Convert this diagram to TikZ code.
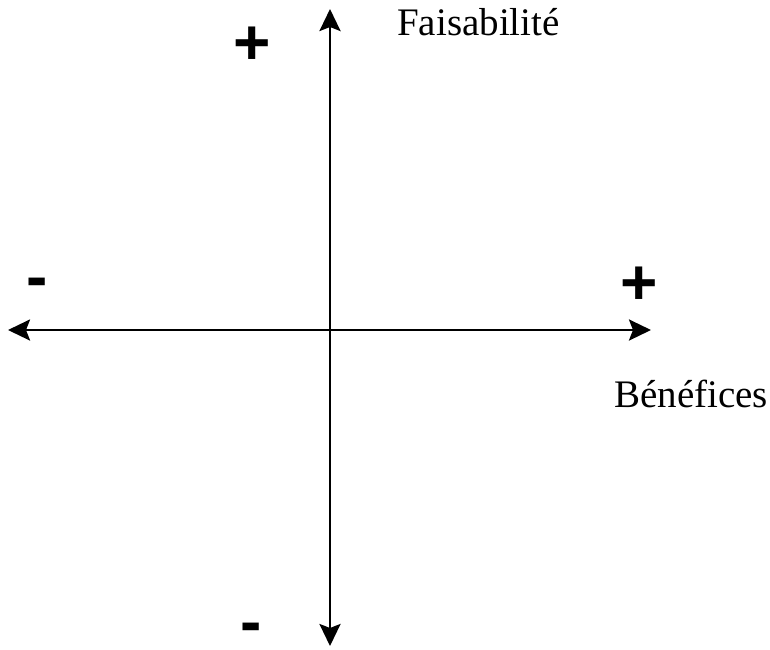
\documentclass[tikz,border=0pt]{standalone}
\usepackage{fontspec}
\setmainfont{Liberation Serif}
\newfontfamily\signfont{Liberation Sans}
\usetikzlibrary{arrows.meta}
\begin{document}
\begin{tikzpicture}[x=1pt,y=-1pt,
  axis/.style={line width=2.8pt,{Stealth[length=22pt,width=21pt,inset=4pt]}-{Stealth[length=22pt,width=21pt,inset=4pt]}},
  lbl/.style={inner sep=0pt,anchor=base west,font=\fontsize{39}{44}\selectfont},
  sgn/.style={inner sep=0pt,anchor=base,text depth=0pt,font=\signfont\bfseries\fontsize{64}{70}\selectfont}]
\useasboundingbox (0,0) rectangle (770,649);
\coordinate (top) at (330,9);
\coordinate (bot) at (330,646);
\coordinate (lft) at (8,330);
\coordinate (rgt) at (651,330);
\draw[axis] (bot) -- (top);
\draw[axis] (lft) -- (rgt);
\node[lbl] (fai) at (397,35) {Faisabilité};
\node[lbl] (ben) at (614,407) {Bénéfices};
\node[sgn] (ptop) at (252,64) {+};
\node[sgn] (prgt) at (639,304) {+};
\node[sgn] (mlft) at (37,298) {-};
\node[sgn] (mbot) at (251,643) {-};
\end{tikzpicture}
\end{document}
